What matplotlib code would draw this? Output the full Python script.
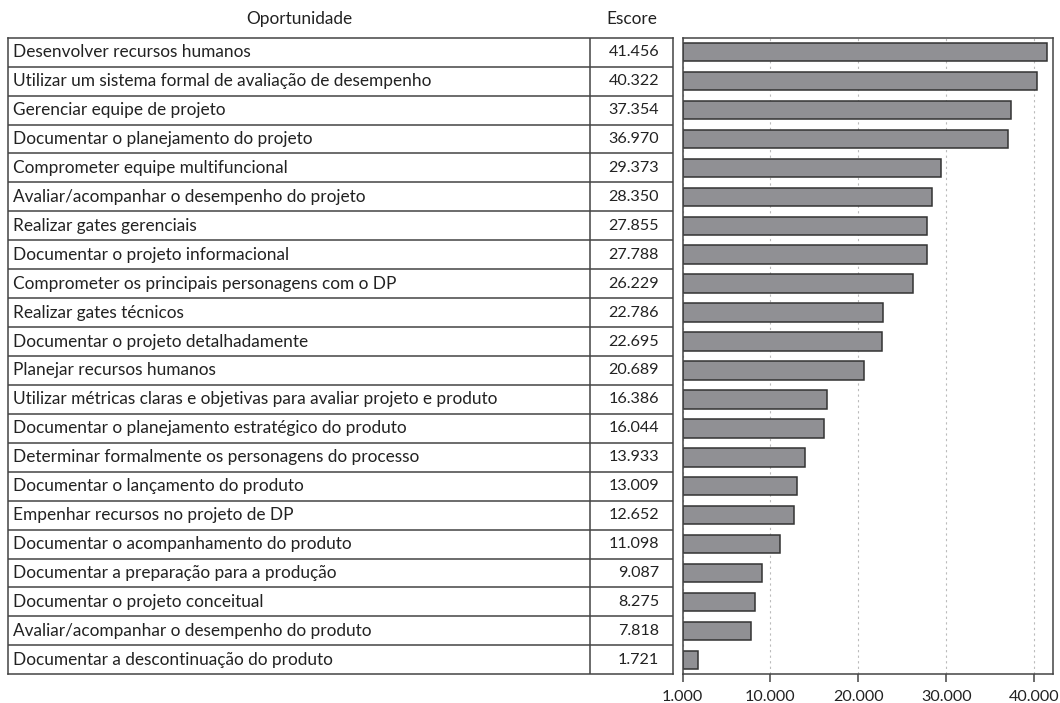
import matplotlib
matplotlib.use('Agg')
import matplotlib.pyplot as plt
import numpy as np

oportunidades = [
    'Desenvolver recursos humanos',
    'Utilizar um sistema formal de avaliação de desempenho',
    'Gerenciar equipe de projeto',
    'Documentar o planejamento do projeto',
    'Comprometer equipe multifuncional',
    'Avaliar/acompanhar o desempenho do projeto',
    'Realizar gates gerenciais',
    'Documentar o projeto informacional',
    'Comprometer os principais personagens com o DP',
    'Realizar gates técnicos',
    'Documentar o projeto detalhadamente',
    'Planejar recursos humanos',
    'Utilizar métricas claras e objetivas para avaliar projeto e produto',
    'Documentar o planejamento estratégico do produto',
    'Determinar formalmente os personagens do processo',
    'Documentar o lançamento do produto',
    'Empenhar recursos no projeto de DP',
    'Documentar o acompanhamento do produto',
    'Documentar a preparação para a produção',
    'Documentar o projeto conceitual',
    'Avaliar/acompanhar o desempenho do produto',
    'Documentar a descontinuação do produto',
]
escores = [41456, 40322, 37354, 36970, 29373, 28350, 27855, 27788, 26229,
           22786, 22695, 20689, 16386, 16044, 13933, 13009, 12652, 11098,
           9087, 8275, 7818, 1721]

# as in the original figure, the first tick reads "1.000"
tick_pos = [0, 10000, 20000, 30000, 40000]
tick_labels = ['1.000', '10.000', '20.000', '30.000', '40.000']

plt.rcParams['font.family'] = ['Lato', 'DejaVu Sans']
fs_txt = 12.4
fs_num = 11.6
txt_c = '#222222'
line_c = '#444444'

def fmt(v):
    return '{:,}'.format(v).replace(',', '.')

fig = plt.figure(figsize=(10.6, 7.03), dpi=100)
n = len(escores)
y = np.arange(n)

bottom = 1 - 674.3 / 703
height = (674.3 - 37.7) / 703

# table part
tab = fig.add_axes([8 / 1060, bottom, 665.3 / 1060, height])
tab.set_xlim(0, 1)
tab.set_ylim(n - 0.5, -0.5)
tab.set_xticks([])
tab.set_yticks([])
for s in tab.spines.values():
    s.set_color(line_c)
    s.set_linewidth(1.1)
div = (590 - 8) / 665.3
tab.axvline(div, color=line_c, lw=1.1)
for i in range(n - 1):
    tab.axhline(i + 0.5, color=line_c, lw=1.1)
for i, (lab, v) in enumerate(zip(oportunidades, escores)):
    tab.text(0.007, i, lab, ha='left', va='center', fontsize=fs_txt, color=txt_c)
    tab.text(0.9785, i, fmt(v), ha='right', va='center', fontsize=fs_num, color=txt_c)
tab.text(div / 2, -1.15, 'Oportunidade', ha='center', va='center', fontsize=fs_txt, color=txt_c)
tab.text((div + 1) / 2, -1.15, 'Escore', ha='center', va='center', fontsize=fs_txt, color=txt_c)

# bars
ax = fig.add_axes([682.5 / 1060, bottom, 370.2 / 1060, height])
ax.barh(y, escores, height=0.64, color='#909094', edgecolor='#333333', linewidth=1.1)
ax.set_ylim(n - 0.5, -0.5)
ax.set_xlim(0, 42090)
ax.set_xticks(tick_pos)
ax.set_xticklabels(tick_labels, fontsize=fs_num, color=txt_c)
ax.set_yticks([])
ax.tick_params(axis='x', length=6, width=1.1, color=line_c, pad=5)
ax.grid(axis='x', linestyle=(0, (2, 3)), color='#bbbbbb', lw=0.8)
ax.set_axisbelow(True)
for s in ax.spines.values():
    s.set_color(line_c)
    s.set_linewidth(1.1)

fig.savefig('out.png', dpi=100)
